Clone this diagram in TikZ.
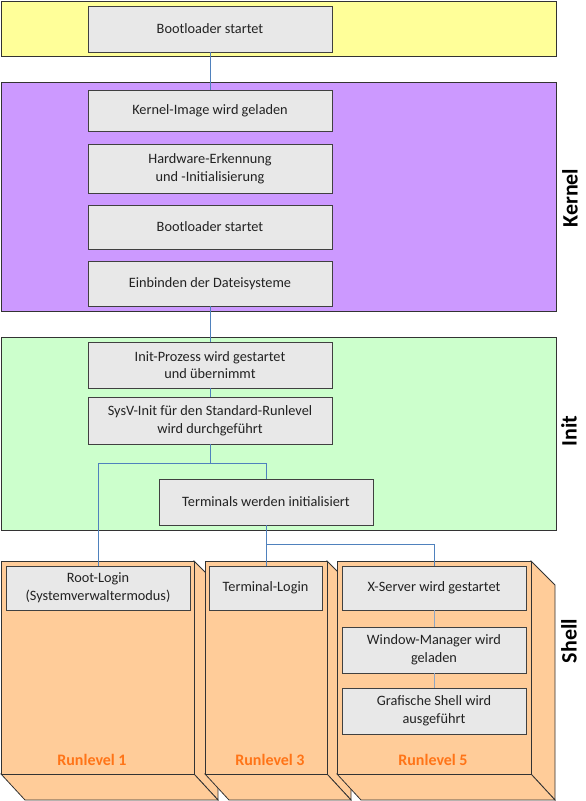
\documentclass[tikz,border=0pt]{standalone}
\usepackage{fontspec}
\setmainfont{Carlito}
\definecolor{bandyellow}{HTML}{FFFF99}
\definecolor{bandpurple}{HTML}{CC99FF}
\definecolor{bandgreen}{HTML}{CCFFCC}
\definecolor{shellorange}{HTML}{FFCC99}
\definecolor{boxfill}{HTML}{E8E8E8}
\definecolor{boxline}{HTML}{404040}
\definecolor{bandline}{HTML}{333333}
\definecolor{connblue}{HTML}{4F81BD}
\definecolor{connpale}{HTML}{8FA6C4}
\definecolor{textcol}{HTML}{222222}
\definecolor{rlorange}{HTML}{FF7417}
\begin{document}
\begin{tikzpicture}[x=1pt,y=-1pt,
  box/.style={draw=boxline, fill=boxfill, line width=0.8pt, inner sep=0pt, align=center,
    font=\fontsize{14.3}{17.6}\selectfont, text=textcol},
  band/.style={draw=bandline, line width=0.9pt},
  conn/.style={draw=connblue, line width=0.8pt},
  connp/.style={draw=connpale, line width=0.8pt},
  sidelabel/.style={rotate=90, inner sep=0pt, font=\bfseries\fontsize{22}{26}\selectfont},
  rl/.style={text=rlorange, inner sep=0pt, font=\bfseries\fontsize{16}{19}\selectfont},
  cube/.style={draw=bandline, fill=shellorange, line width=0.8pt, line join=miter}]
\useasboundingbox (0,0) rectangle (586,801);

% bands
\filldraw[band, fill=bandyellow] (1,1) rectangle (556,56);
\filldraw[band, fill=bandpurple] (1,82) rectangle (556,311);
\filldraw[band, fill=bandgreen] (1,337) rectangle (556,530);

% shell cuboids
\filldraw[cube] (194,561) -- (218,585) -- (218,800) -- (194,774) -- cycle;
\filldraw[cube] (1,774) -- (194,774) -- (218,800) -- (25,800) -- cycle;
\filldraw[cube] (1,561) rectangle (194,774);

\filldraw[cube] (327,561) -- (351,585) -- (351,800) -- (327,774) -- cycle;
\filldraw[cube] (205,774) -- (327,774) -- (351,800) -- (229,800) -- cycle;
\filldraw[cube] (205,561) rectangle (327,774);

\filldraw[cube] (531,561) -- (555,585) -- (555,800) -- (531,774) -- cycle;
\filldraw[cube] (337,774) -- (531,774) -- (555,800) -- (361,800) -- cycle;
\filldraw[cube] (337,561) rectangle (531,774);

% boxes
\node[box, minimum width=244pt, minimum height=46pt] (b1) at (210,29) {Bootloader startet};
\node[box, minimum width=244pt, minimum height=41pt] (k1) at (210,110.5) {Kernel-Image wird geladen};
\node[box, minimum width=244pt, minimum height=49pt] (k2) at (210,168.5) {Hardware-Erkennung\\und -Initialisierung};
\node[box, minimum width=244pt, minimum height=44pt] (k3) at (210,227) {Bootloader startet};
\node[box, minimum width=244pt, minimum height=45pt] (k4) at (210,283.5) {Einbinden der Dateisysteme};
\node[box, minimum width=244pt, minimum height=46pt] (i1) at (210,365) {Init-Prozess wird gestartet\\und übernimmt};
\node[box, minimum width=244pt, minimum height=47pt] (i2) at (210,420.5) {SysV-Init für den Standard-Runlevel\\wird durchgeführt};
\node[box, minimum width=214pt, minimum height=46pt] (i3) at (266,502) {Terminals werden initialisiert};
\node[box, minimum width=184pt, minimum height=44pt] (s1) at (98,588) {Root-Login\\(Systemverwaltermodus)};
\node[box, minimum width=113pt, minimum height=44pt] (s2) at (265.5,588) {Terminal-Login};
\node[box, minimum width=184pt, minimum height=44pt] (s3) at (434,588) {X-Server wird gestartet};
\node[box, minimum width=184pt, minimum height=46pt] (s4) at (434,650) {Window-Manager wird\\geladen};
\node[box, minimum width=184pt, minimum height=46pt] (s5) at (434,711) {Grafische Shell wird\\ausgeführt};

% connectors
\draw[conn] (b1.south) -- (k1.north);
\draw[conn] (k4.south) -- (i1.north);
\draw[conn] (i1.south) -- (i2.north);
\draw[conn] (i2.south) -- ++(0,19) coordinate (j1);
\draw[conn] (j1) -| (s1.north);
\draw[conn] (j1) -| (i3.north);
\draw[conn] (i3.south) -- (i3.south |- s2.north);
\draw[conn] (i3.south) -- ++(0,19) coordinate (j2);
\draw[conn] (j2) -| (s3.north);
\draw[connp] (s3.south) -- (s4.north);
\draw[connp] (s4.south) -- (s5.north);

% labels
\node[rl] (r1) at (92,760) {Runlevel 1};
\node[rl] (r3) at (270,760) {Runlevel 3};
\node[rl] (r5) at (433,760) {Runlevel 5};
\node[sidelabel] (lk) at (570,198) {Kernel};
\node[sidelabel] (li) at (569,431) {Init};
\node[sidelabel] (ls) at (569,641) {Shell};
\end{tikzpicture}
\end{document}
